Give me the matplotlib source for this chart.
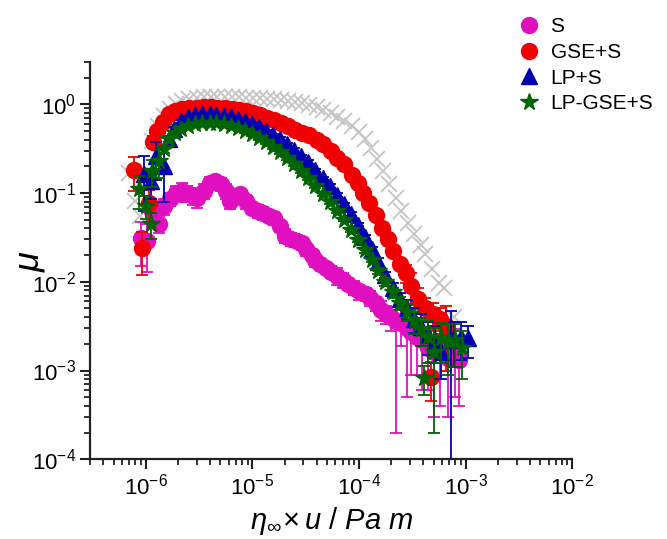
"""
Coeficiente de fricción mu frente a eta_inf x u (escala log-log).
"""
import numpy as np
import matplotlib
matplotlib.use("Agg")
import matplotlib.pyplot as plt

plt.rcParams['font.family'] = ['Liberation Sans', 'DejaVu Sans']
plt.rcParams['mathtext.fontset'] = 'custom'
plt.rcParams['mathtext.rm'] = 'Liberation Sans'
plt.rcParams['mathtext.it'] = 'Liberation Sans:italic'
plt.rcParams['mathtext.bf'] = 'Liberation Sans:bold'
plt.rcParams['axes.unicode_minus'] = False

# Curva de referencia (cruces grises, sin leyenda)
ref_x = [7.0e-7, 7.9e-7, 8.85e-7, 1.0e-6, 1.15e-6, 1.31e-6, 1.49e-6, 1.7e-6, 1.94e-6, 2.2e-6,
         2.56e-6, 3.0e-6, 3.5e-6, 4.05e-6, 4.7e-6, 5.5e-6, 6.4e-6, 7.45e-6, 8.7e-6, 1.01e-5,
         1.18e-5, 1.37e-5, 1.59e-5, 1.85e-5, 2.16e-5, 2.5e-5, 2.9e-5, 3.4e-5, 4.0e-5, 4.6e-5,
         5.4e-5, 6.25e-5, 7.3e-5, 8.5e-5, 9.9e-5, 1.14e-4, 1.3e-4, 1.46e-4, 1.66e-4, 1.89e-4,
         2.2e-4, 2.5e-4, 2.9e-4, 3.3e-4, 3.8e-4, 4.2e-4, 4.8e-4, 5.6e-4, 6.3e-4, 7.8e-4]
ref_y = [0.168, 0.081, 0.055, 0.136, 0.384, 0.566, 0.733, 0.878, 1.0, 1.08,
         1.14, 1.17, 1.2, 1.2, 1.2, 1.2, 1.2, 1.2, 1.17, 1.17,
         1.17, 1.14, 1.14, 1.11, 1.08, 1.05, 1.03, 0.974, 0.925, 0.856,
         0.79, 0.714, 0.644, 0.566, 0.484, 0.404, 0.32, 0.241, 0.177, 0.126,
         0.088, 0.063, 0.046, 0.0346, 0.026, 0.0206, 0.014, 0.0098, 0.0084, 0.004]

# S
s_x = [9.05e-7, 1.03e-6, 1.15e-6, 1.34e-6, 1.49e-6, 1.7e-6, 1.94e-6, 2.2e-6, 2.45e-6, 2.75e-6,
       3.05e-6, 3.5e-6, 3.96e-6, 4.5e-6, 5.05e-6, 5.6e-6, 6.1e-6, 6.8e-6, 7.6e-6, 8.7e-6,
       1.0e-5, 1.12e-5, 1.25e-5, 1.43e-5, 1.6e-5, 1.8e-5, 2.0e-5, 2.3e-5, 2.6e-5, 2.9e-5,
       3.2e-5, 3.6e-5, 3.9e-5, 4.3e-5, 4.9e-5, 5.5e-5, 6.2e-5, 7.0e-5, 7.9e-5, 8.9e-5,
       1.0e-4, 1.15e-4, 1.28e-4, 1.43e-4, 1.6e-4, 1.8e-4, 2.0e-4, 2.2e-4, 2.5e-4, 2.8e-4,
       3.1e-4, 3.5e-4, 3.9e-4, 4.4e-4, 5.0e-4, 5.8e-4, 6.8e-4, 8.0e-4, 8.6e-4]
s_y = [0.031, 0.029, 0.063, 0.045, 0.0715, 0.0857, 0.1, 0.105, 0.1, 0.093,
       0.088, 0.105, 0.13, 0.136, 0.126, 0.105, 0.081, 0.09, 0.097, 0.081,
       0.068, 0.063, 0.0595, 0.055, 0.052, 0.042, 0.033, 0.030, 0.029, 0.027,
       0.0235, 0.020, 0.0176, 0.016, 0.0144, 0.013, 0.0117, 0.0106, 0.0095, 0.0086,
       0.0078, 0.0072, 0.0066, 0.0057, 0.0048, 0.0043, 0.004, 0.0036, 0.0034, 0.003,
       0.0027, 0.0024, 0.0022, 0.0018, 0.0016, 0.002, 0.0014, 0.0017, 0.0013]
s_err = [0.016, 0.016, 0.015, 0.01, 0.015, 0.015, 0.02, 0.025, 0.02, 0.02,
         0.02, 0.02, 0.02, 0.02, 0.02, 0.02, 0.015, 0.015, 0.015, 0.015,
         0.01, 0.01, 0.01, 0.008, 0.008, 0.006, 0.006, 0.005, 0.004, 0.004,
         0.004, 0.003, 0.003, 0.002, 0.002, 0.002, 0.0025, 0.002, 0.0015, 0.0015,
         0.0015, 0.0012, 0.0012, 0.001, 0.0012, 0.001, 0.0012, 0.0034, 0.0015, 0.0025,
         0.0018, 0.0015, 0.0016, 0.0012, 0.0013, 0.0016, 0.0011, 0.0012, 0.0009]

# GSE+S
gse_x = [7.8e-7, 9.3e-7, 1.08e-6, 1.17e-6, 1.28e-6, 1.46e-6, 1.66e-6, 1.89e-6, 2.2e-6, 2.56e-6,
         3.0e-6, 3.5e-6, 4.05e-6, 4.7e-6, 5.5e-6, 6.4e-6, 7.5e-6, 8.7e-6, 1.01e-5, 1.18e-5,
         1.37e-5, 1.59e-5, 1.85e-5, 2.16e-5, 2.5e-5, 2.9e-5, 3.4e-5, 4.0e-5, 4.6e-5, 5.4e-5,
         6.25e-5, 7.3e-5, 8.5e-5, 9.7e-5, 1.1e-4, 1.25e-4, 1.43e-4, 1.63e-4, 1.85e-4, 2.1e-4,
         2.4e-4, 2.75e-4, 3.1e-4, 3.6e-4, 4.2e-4, 4.7e-4, 4.9e-4, 5.7e-4, 6.5e-4]
gse_y = [0.18, 0.024, 0.077, 0.38, 0.50, 0.64, 0.77, 0.83, 0.88, 0.90,
         0.92, 0.93, 0.93, 0.90, 0.90, 0.88, 0.86, 0.83, 0.79, 0.75,
         0.71, 0.66, 0.61, 0.57, 0.52, 0.48, 0.45, 0.40, 0.355, 0.30,
         0.25, 0.21, 0.16, 0.13, 0.10, 0.077, 0.057, 0.040, 0.030, 0.022,
         0.016, 0.0126, 0.009, 0.0064, 0.005, 0.00085, 0.0043, 0.0038, 0.0032]
gse_err = [0.075, 0.012, 0.03, 0.06, 0.03, 0.03, 0.03, 0.03, 0.03, 0.03,
           0.03, 0.03, 0.03, 0.03, 0.03, 0.03, 0.03, 0.03, 0.03, 0.03,
           0.02, 0.02, 0.02, 0.02, 0.02, 0.02, 0.015, 0.015, 0.01, 0.01,
           0.01, 0.008, 0.006, 0.005, 0.004, 0.003, 0.003, 0.002, 0.002, 0.002,
           0.002, 0.003, 0.0035, 0.002, 0.0015, 0.0004, 0.0015, 0.0012, 0.0022]

# LP+S
lp_x = [9.65e-7, 1.12e-6, 1.25e-6, 1.49e-6, 1.66e-6, 1.85e-6, 2.16e-6, 2.51e-6, 2.92e-6, 3.4e-6,
        3.96e-6, 4.6e-6, 5.37e-6, 6.25e-6, 7.28e-6, 8.48e-6, 9.9e-6, 1.15e-5, 1.34e-5, 1.56e-5,
        1.82e-5, 2.12e-5, 2.47e-5, 2.88e-5, 3.35e-5, 3.9e-5, 4.55e-5, 5.3e-5, 6.2e-5, 7.2e-5,
        8.4e-5, 9.75e-5, 1.14e-4, 1.33e-4, 1.52e-4, 1.77e-4, 2.07e-4, 2.4e-4, 2.8e-4, 3.26e-4,
        3.8e-4, 4.42e-4, 5.15e-4, 5.85e-4, 7.3e-4, 7.8e-4, 9.0e-4, 1.05e-3]
lp_y = [0.163, 0.136, 0.26, 0.20, 0.404, 0.524, 0.644, 0.714, 0.752, 0.772,
        0.772, 0.752, 0.733, 0.714, 0.678, 0.644, 0.596, 0.551, 0.497, 0.448,
        0.404, 0.355, 0.304, 0.26, 0.223, 0.181, 0.147, 0.12, 0.095, 0.075,
        0.058, 0.044, 0.032, 0.0233, 0.0168, 0.012, 0.0086, 0.0064, 0.005, 0.00384,
        0.0031, 0.0025, 0.0022, 0.0016, 0.0022, 0.0023, 0.0024, 0.0023]
lp_err = [0.1, 0.05, 0.12, 0.12, 0.03, 0.03, 0.03, 0.03, 0.03, 0.03,
          0.03, 0.03, 0.03, 0.03, 0.03, 0.03, 0.02, 0.02, 0.02, 0.02,
          0.02, 0.015, 0.015, 0.01, 0.01, 0.008, 0.006, 0.005, 0.004, 0.003,
          0.003, 0.002, 0.002, 0.0015, 0.0015, 0.001, 0.001, 0.001, 0.0012, 0.0012,
          0.0012, 0.001, 0.001, 0.0008, 0.0025, 0.0012, 0.0011, 0.0009]

# LP-GSE+S
lpg_x = [8.66e-7, 1.0e-6, 1.12e-6, 1.15e-6, 1.34e-6, 1.49e-6, 1.66e-6, 1.89e-6, 2.16e-6, 2.51e-6,
         2.92e-6, 3.4e-6, 3.96e-6, 4.6e-6, 5.37e-6, 6.25e-6, 7.28e-6, 8.48e-6, 9.9e-6, 1.15e-5,
         1.34e-5, 1.56e-5, 1.82e-5, 2.12e-5, 2.47e-5, 2.88e-5, 3.35e-5, 3.9e-5, 4.55e-5, 5.3e-5,
         6.2e-5, 7.2e-5, 8.4e-5, 9.75e-5, 1.14e-4, 1.33e-4, 1.52e-4, 1.77e-4, 2.07e-4, 2.4e-4,
         2.8e-4, 3.26e-4, 3.8e-4, 4.05e-4, 4.42e-4, 5.0e-4, 5.85e-4, 6.8e-4, 8.0e-4, 9.3e-4]
lpg_y = [0.111, 0.0715, 0.045, 0.177, 0.229, 0.312, 0.404, 0.472, 0.524, 0.566,
         0.596, 0.612, 0.612, 0.612, 0.596, 0.566, 0.537, 0.497, 0.46, 0.415,
         0.374, 0.329, 0.289, 0.247, 0.211, 0.177, 0.147, 0.12, 0.097, 0.079,
         0.063, 0.05, 0.0385, 0.0297, 0.0228, 0.0176, 0.0133, 0.01, 0.0076, 0.0058,
         0.0046, 0.0036, 0.0029, 0.00083, 0.0024, 0.0016, 0.0023, 0.0021, 0.0022, 0.0018]
lpg_err = [0.045, 0.02, 0.015, 0.06, 0.08, 0.03, 0.03, 0.03, 0.03, 0.03,
           0.03, 0.03, 0.03, 0.03, 0.03, 0.03, 0.02, 0.02, 0.02, 0.02,
           0.02, 0.015, 0.015, 0.01, 0.01, 0.008, 0.006, 0.005, 0.004, 0.003,
           0.003, 0.002, 0.002, 0.0015, 0.0015, 0.001, 0.001, 0.001, 0.001, 0.001,
           0.001, 0.001, 0.001, 0.0003, 0.0012, 0.0014, 0.0011, 0.0012, 0.0011, 0.001]

fig = plt.figure(figsize=(6.67, 5.39), dpi=100)
ax = fig.add_axes([0.135, 0.148, 0.723, 0.737])

# Cruces grises detrás de todo
ax.plot(ref_x, ref_y, 'x', color='#c4c4c4', ms=12, mew=1.3, ls='none', zorder=1)

series = [
    (s_x, s_y, s_err, 'o', '#e010c0', 11.5, 'S'),
    (gse_x, gse_y, gse_err, 'o', '#f00000', 11.5, 'GSE+S'),
    (lp_x, lp_y, lp_err, '^', '#0000b0', 11.5, 'LP+S'),
    (lpg_x, lpg_y, lpg_err, '*', '#006400', 13, 'LP-GSE+S'),
]
handles = []
for i, (x, y, err, mk, col, ms, lab) in enumerate(series):
    h = ax.errorbar(x, y, yerr=err, fmt=mk, color=col, mec=col, mfc=col, ms=ms,
                    ecolor=col, elinewidth=1.3, capsize=4, capthick=1.3,
                    zorder=2 + i, label=lab)
    handles.append(h[0])

ax.set_xscale('log')
ax.set_yscale('log')
ax.set_xlim(3e-7, 1e-2)
ax.set_ylim(1e-4, 3)

for side in ['top', 'right']:
    ax.spines[side].set_visible(False)
for side in ['left', 'bottom']:
    ax.spines[side].set_linewidth(1.6)
    ax.spines[side].set_color('#222222')

ax.tick_params(which='major', direction='out', length=7, width=1.5,
               labelsize=16, colors='#222222', labelcolor='black')
ax.tick_params(which='minor', direction='out', length=4, width=1.3, colors='#222222')
ax.tick_params(axis='y', which='major', pad=3)
ax.tick_params(axis='x', which='major', pad=3)

ax.set_xlabel(r'$\eta_{\infty}\!\times u\ /\ Pa\ m$', fontsize=21)
ax.xaxis.set_label_coords(0.5, -0.115)
ax.set_ylabel(r'$\mu$', fontsize=26)
ax.yaxis.set_label_coords(-0.09, 0.5)

fig.legend(handles, [s[6] for s in series], loc='upper left',
           bbox_to_anchor=(0.752, 0.995), frameon=False, fontsize=15,
           handletextpad=0.45, labelspacing=0.32, handlelength=1.2,
           borderaxespad=0.3)

fig.savefig('out.png', dpi=100)
